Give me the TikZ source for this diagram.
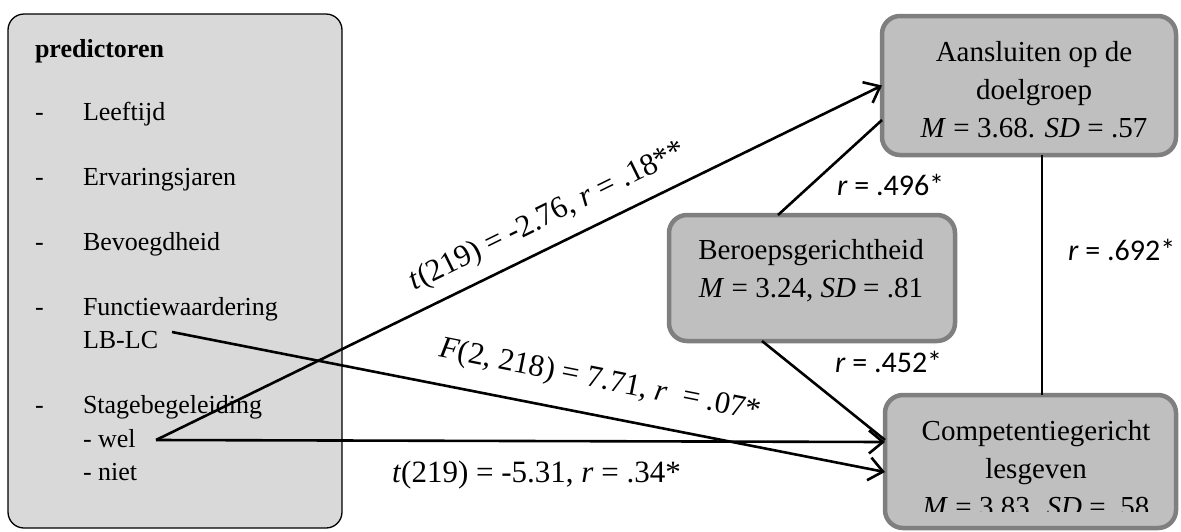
\documentclass[tikz,border=0pt]{standalone}
\usepackage{fontspec}
\setmainfont{Liberation Serif}
\newfontfamily\calibfont{Carlito}
\usetikzlibrary{arrows.meta,calc}

\definecolor{predfill}{HTML}{D9D9D9}
\definecolor{catfill}{HTML}{BFBFBF}
\definecolor{catedge}{HTML}{7F7F7F}

\begin{document}
\begin{tikzpicture}[x=1pt,y=-1pt,
  every node/.style={inner sep=0pt, outer sep=0pt},
  predbox/.style={draw=black, line width=1.3pt, fill=predfill, rounded corners=16pt},
  catbox/.style={draw=catedge, line width=4.5pt, fill=catfill, rounded corners=18pt},
  predtxt/.style={anchor=base west, font=\fontsize{26}{30}\selectfont},
  cattxt/.style={align=center, font=\fontsize{29}{38}\selectfont},
  stat/.style={font=\fontsize{31}{36}\selectfont},
  corr/.style={anchor=base west, font=\calibfont\fontsize{30}{34}\selectfont},
  conn/.style={line width=2.6pt},
  arr/.style={conn, -{Straight Barb[length=14pt,width=23pt]}}
]
\useasboundingbox (0,0) rectangle (1181,531);

% predictor panel
\node[predbox, minimum width=334pt, minimum height=514pt] (pred) at (175,271) {};
\node[predtxt, font=\bfseries\fontsize{26}{30}\selectfont] (ptitle) at (35,57) {predictoren};
\node[predtxt] (dash1) at (35,120) {-};
\node[predtxt] (item1) at (83,120) {Leeftijd};
\node[predtxt] (dash2) at (35,185) {-};
\node[predtxt] (item2) at (83,185) {Ervaringsjaren};
\node[predtxt] (dash3) at (35,250) {-};
\node[predtxt] (item3) at (83,250) {Bevoegdheid};
\node[predtxt] (dash4) at (35,315) {-};
\node[predtxt] (item4) at (83,315) {Functiewaardering};
\node[predtxt] (lblc) at (83,348) {LB-LC};
\node[predtxt] (dash5) at (35,413) {-};
\node[predtxt] (item5) at (83,413) {Stagebegeleiding};
\node[predtxt] (wel) at (83,447) {- wel};
\node[predtxt] (niet) at (83,480) {- niet};

% outcome and mediator boxes
\node[catbox, minimum width=294pt, minimum height=139pt] (aans) at (1029,85.5) {};
\node[cattxt] (aanstxt) at (1034,89.6) {Aansluiten op de\\doelgroep\\\textit{M} = 3.68. \textit{SD} = .57};

\node[catbox, minimum width=286pt, minimum height=126pt] (ber) at (812,278) {};
\node[cattxt] (bertxt) at (811,271) {Beroepsgerichtheid\\\textit{M} = 3.24, \textit{SD} = .81};

\node[catbox, minimum width=291pt, minimum height=133pt] (comp) at (1030.5,461.5) {};
\begin{scope}
  \clip (880,380) rectangle (1181,511);
  \node[cattxt] (comptxt) at (1036,468.5) {Competentiegericht\\lesgeven\\\textit{M} = 3.83. \textit{SD} = .58};
\end{scope}

% connection points on the predictor side
\coordinate (welpt) at (156,440);
\coordinate (lbpt) at (172,332);
\coordinate (vx) at (1042,0);

% connectors
\draw[arr] (welpt) -- (aans.west);
\draw[arr] (lbpt) -- ($(comp.west)+(0,10.5)$);
\draw[arr] (welpt) -- ($(comp.west)+(0,-19.5)$);
\draw[conn] ($(ber.north)+(-34,0)$) -- ($(aans.west)+(0,34.5)$);
\draw[conn] ($(ber.south)+(-50,0)$) -- ($(comp.west)+(0,-21.5)$);
\draw[conn] (aans.south -| vx) -- (comp.north -| vx);

% statistics
\node[stat, rotate=26.2] (st1) at (548,217) {\textit{t}(219) = -2.76, \textit{r} = .18**};
\node[stat, rotate=-11.2] (st2) at (600,381) {\textit{F}(2, 218) = 7.71, \textit{r}\ \ = .07*};
\node[stat, anchor=base west] (st3) at (392,482) {\textit{t}(219) = -5.31, \textit{r} = .34*};

\node[corr] (c1) at (837,195) {\textit{r} = .496*};
\node[corr] (c2) at (1068,260) {\textit{r} = .692*};
\node[corr] (c3) at (835,372) {\textit{r} = .452*};
\end{tikzpicture}
\end{document}
